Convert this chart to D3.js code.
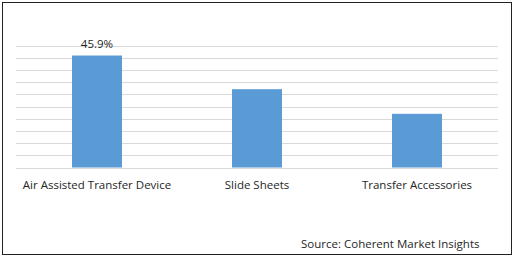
<!DOCTYPE html>
<html>
<head>
<meta charset="utf-8">
<script src="https://cdn.jsdelivr.net/npm/d3@7"></script>
<style>
  body { margin: 0; background: #fff; }
  text { font-family: "Open Sans", "Noto Sans", sans-serif; fill: #262626; }
</style>
</head>
<body>
<div id="chart"></div>
<script>
var categories = ["Air Assisted Transfer Device", "Slide Sheets", "Transfer Accessories"];
var shares = [45.9, 32.1, 22.0];
var labels = ["45.9%", null, null];
var gridTicks = [0, 5, 10, 15, 20, 25, 30, 35, 40, 45, 50];

function init(){
    var w = 515, h = 257;

    var svg = d3.select("#chart")
        .append("svg")
        .attr("width", w)
        .attr("height", h);

    svg.append("rect")
        .attr("x", 2.5).attr("y", 2.5)
        .attr("width", 509).attr("height", 252)
        .attr("fill", "#fff")
        .attr("stroke", "#222")
        .attr("stroke-width", 1);

    var xScale = d3.scaleBand()
        .domain(categories)
        .range([17, 497])
        .paddingInner(0.6875)
        .paddingOuter(0.34375);

    var yScale = d3.scaleLinear()
        .domain([0, 50])
        .range([167.5, 45.5]);

    svg.append("g")
        .selectAll("line")
        .data(gridTicks)
        .enter()
        .append("line")
        .attr("x1", 16)
        .attr("x2", 498)
        .attr("y1", function(d){ return Math.round(yScale(d)) + 0.5; })
        .attr("y2", function(d){ return Math.round(yScale(d)) + 0.5; })
        .attr("stroke", "#d9d9d9")
        .attr("stroke-width", 1);

    var data = categories.map(function(c, i){
        return {cat: c, value: shares[i], label: labels[i]};
    });

    svg.append("g")
        .selectAll("rect")
        .data(data)
        .enter()
        .append("rect")
        .attr("x", function(d){ return xScale(d.cat); })
        .attr("width", xScale.bandwidth())
        .attr("y", function(d){ return yScale(d.value); })
        .attr("height", function(d){ return yScale(0) - yScale(d.value); })
        .attr("fill", "#5b9bd5");

    svg.append("g")
        .selectAll("text")
        .data(data.filter(function(d){ return d.label; }))
        .enter()
        .append("text")
        .attr("x", function(d){ return xScale(d.cat) + xScale.bandwidth()/2; })
        .attr("y", function(d){ return yScale(d.value) - 7.5; })
        .attr("text-anchor", "middle")
        .style("font-size", "11.5px")
        .text(function(d){ return d.label; });

    var xAxis = d3.axisBottom(xScale).tickSize(0).tickPadding(0);
    var gx = svg.append("g")
        .attr("transform", "translate(0," + 185 + ")")
        .call(xAxis);
    gx.select(".domain").remove();
    gx.selectAll("text")
        .attr("dy", "0.35em")
        .style("font-size", "11.5px")
        .style("font-family", "\"Open Sans\", \"Noto Sans\", sans-serif")
        .attr("fill", "#262626");

    svg.append("text")
        .attr("x", 479.5)
        .attr("y", 247.5)
        .attr("text-anchor", "end")
        .style("font-size", "11.5px")
        .text("Source: Coherent Market Insights");
}

window.onload = init;
</script>
</body>
</html>
